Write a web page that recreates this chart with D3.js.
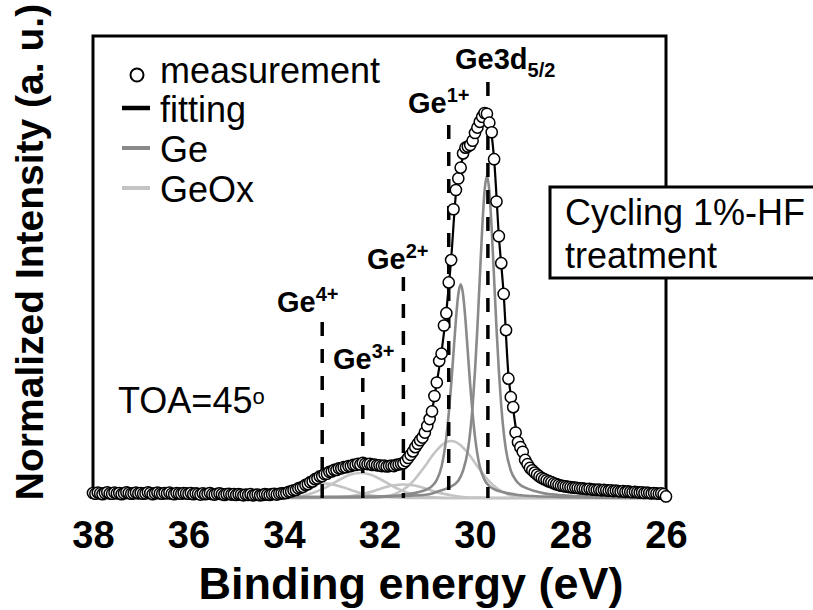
<!DOCTYPE html>
<html>
<head>
<meta charset="utf-8">
<script src="https://cdn.jsdelivr.net/npm/d3@7/dist/d3.min.js"></script>
<style>
  html, body { margin: 0; padding: 0; background: #fff; }
  svg { display: block; font-family: "Liberation Sans", Arial, Helvetica, sans-serif; }
</style>
</head>
<body>
<svg id="chart" width="813" height="610"></svg>
<script>
// Ge 3d XPS spectrum, binding energy grid (eV)
const energy = [
  38,37.95,37.9,37.85,37.8,37.75,37.7,37.65,37.6,37.55,37.5,37.45,37.4,37.35,37.3,37.25,37.2,37.15,37.1,37.05,
  37,36.95,36.9,36.85,36.8,36.75,36.7,36.65,36.6,36.55,36.5,36.45,36.4,36.35,36.3,36.25,36.2,36.15,36.1,36.05,
  36,35.95,35.9,35.85,35.8,35.75,35.7,35.65,35.6,35.55,35.5,35.45,35.4,35.35,35.3,35.25,35.2,35.15,35.1,35.05,
  35,34.95,34.9,34.85,34.8,34.75,34.7,34.65,34.6,34.55,34.5,34.45,34.4,34.35,34.3,34.25,34.2,34.15,34.1,34.05,
  34,33.95,33.9,33.85,33.8,33.75,33.7,33.65,33.6,33.55,33.5,33.45,33.4,33.35,33.3,33.25,33.2,33.15,33.1,33.05,
  33,32.95,32.9,32.85,32.8,32.75,32.7,32.65,32.6,32.55,32.5,32.45,32.4,32.35,32.3,32.25,32.2,32.15,32.1,32.05,
  32,31.95,31.9,31.85,31.8,31.75,31.7,31.65,31.6,31.55,31.5,31.45,31.4,31.35,31.3,31.25,31.2,31.15,31.1,31.05,
  31,30.95,30.9,30.85,30.8,30.75,30.7,30.65,30.6,30.55,30.5,30.45,30.4,30.35,30.3,30.25,30.2,30.15,30.1,30.05,
  30,29.95,29.9,29.85,29.8,29.75,29.7,29.65,29.6,29.55,29.5,29.45,29.4,29.35,29.3,29.25,29.2,29.15,29.1,29.05,
  29,28.95,28.9,28.85,28.8,28.75,28.7,28.65,28.6,28.55,28.5,28.45,28.4,28.35,28.3,28.25,28.2,28.15,28.1,28.05,
  28,27.95,27.9,27.85,27.8,27.75,27.7,27.65,27.6,27.55,27.5,27.45,27.4,27.35,27.3,27.25,27.2,27.15,27.1,27.05,
  27,26.95,26.9,26.85,26.8,26.75,26.7,26.65,26.6,26.55,26.5,26.45,26.4,26.35,26.3,26.25,26.2,26.15,26.1,26.05,
  26
];

// Measured normalized intensity at each grid energy
const measured = [
  0.013,0.011,0.014,0.012,0.010,0.013,0.015,0.012,0.011,0.014,0.012,0.013,0.010,0.012,0.015,0.013,0.011,0.012,0.014,0.012,
  0.013,0.011,0.012,0.015,0.013,0.010,0.012,0.014,0.012,0.011,0.013,0.012,0.014,0.011,0.010,0.013,0.012,0.011,0.013,0.012,
  0.011,0.013,0.010,0.012,0.011,0.009,0.012,0.010,0.011,0.013,0.010,0.009,0.011,0.012,0.010,0.008,0.010,0.011,0.009,0.010,
  0.008,0.010,0.009,0.007,0.009,0.008,0.010,0.007,0.008,0.009,0.007,0.008,0.010,0.009,0.008,0.010,0.011,0.009,0.011,0.012,
  0.012,0.013,0.016,0.017,0.020,0.021,0.025,0.027,0.029,0.034,0.036,0.041,0.043,0.049,0.051,0.056,0.057,0.062,0.063,0.068,
  0.069,0.073,0.073,0.077,0.077,0.080,0.080,0.083,0.083,0.086,0.086,0.089,0.087,0.091,0.089,0.088,0.089,0.086,0.087,0.085,
  0.085,0.083,0.084,0.082,0.083,0.084,0.083,0.086,0.087,0.089,0.090,0.096,0.104,0.112,0.121,0.132,0.141,0.150,0.157,0.170,
  0.187,0.205,0.225,0.265,0.300,0.356,0.375,0.448,0.480,0.560,0.618,0.750,0.800,0.830,0.858,0.895,0.910,0.913,0.917,0.928,
  0.948,0.962,0.977,0.990,1.000,0.998,0.975,0.950,0.880,0.770,0.680,0.610,0.530,0.436,0.310,0.262,0.236,0.170,0.145,0.132,
  0.120,0.099,0.088,0.078,0.072,0.066,0.061,0.056,0.052,0.049,0.046,0.043,0.041,0.038,0.036,0.034,0.032,0.031,0.030,0.029,
  0.028,0.027,0.027,0.026,0.025,0.025,0.024,0.023,0.024,0.022,0.022,0.021,0.022,0.020,0.021,0.020,0.019,0.020,0.018,0.019,
  0.018,0.017,0.018,0.016,0.017,0.016,0.015,0.016,0.015,0.014,0.015,0.013,0.014,0.013,0.012,0.013,0.012,0.011,0.012,0.010,
  0.004
];

// Total fitted envelope [energy, intensity]
const fitting = [
  [38,0.012],[36,0.012],[34.5,0.009],[34,0.012],[33.9,0.015],[33.8,0.019],[33.7,0.024],[33.6,0.030],[33.5,0.037],
  [33.4,0.044],[33.3,0.051],[33.2,0.058],[33.1,0.064],[33.0,0.069],[32.9,0.074],[32.8,0.078],[32.7,0.081],[32.6,0.084],
  [32.5,0.087],[32.4,0.089],[32.3,0.089],[32.2,0.087],[32.1,0.085],[32.0,0.084],[31.9,0.083],[31.8,0.083],[31.7,0.084],
  [31.6,0.086],[31.5,0.090],[31.4,0.103],[31.3,0.120],[31.2,0.140],[31.1,0.158],[31.0,0.186],[30.9,0.228],[30.8,0.300],
  [30.7,0.380],[30.6,0.485],[30.5,0.620],[30.4,0.790],[30.3,0.860],[30.2,0.905],[30.1,0.918],[30.0,0.947],[29.9,0.978],
  [29.8,1.000],[29.7,0.977],[29.6,0.880],[29.5,0.680],[29.4,0.530],[29.3,0.320],[29.2,0.230],[29.1,0.148],[29.0,0.118],
  [28.9,0.088],[28.8,0.072],[28.7,0.061],[28.6,0.052],[28.5,0.046],[28.4,0.041],[28.3,0.036],[28.2,0.032],[28.0,0.028],
  [27.5,0.022],[27.0,0.018],[26.5,0.014],[26.0,0.008]
];

// Elemental Ge doublet components
const ge52 = [
  [38,0],[32.0,0.003],[31.5,0.005],[31.0,0.009],[30.75,0.018],[30.55,0.027],[30.35,0.045],[30.25,0.071],[30.15,0.124],
  [30.1,0.172],[30.05,0.239],[30.0,0.330],[29.95,0.442],[29.9,0.570],[29.85,0.698],[29.8,0.797],[29.75,0.836],[29.7,0.797],
  [29.65,0.698],[29.6,0.570],[29.55,0.442],[29.5,0.330],[29.45,0.239],[29.4,0.172],[29.35,0.124],[29.25,0.071],[29.15,0.047],
  [29.05,0.034],[28.95,0.027],[28.75,0.018],[28.55,0.012],[28.25,0.008],[27.75,0.0045],[27.0,0.002],[26,0]
];
const ge32 = [
  [38,0],[32.3,0.003],[31.8,0.005],[31.5,0.008],[31.3,0.012],[31.1,0.018],[31.0,0.023],[30.9,0.031],[30.8,0.047],
  [30.7,0.082],[30.65,0.114],[30.6,0.159],[30.55,0.219],[30.5,0.293],[30.45,0.378],[30.4,0.463],[30.35,0.529],[30.3,0.555],
  [30.25,0.529],[30.2,0.463],[30.15,0.378],[30.1,0.293],[30.05,0.219],[30.0,0.159],[29.95,0.114],[29.9,0.082],[29.8,0.047],
  [29.7,0.031],[29.6,0.023],[29.5,0.018],[29.3,0.012],[29.1,0.008],[28.8,0.005],[28.3,0.003],[26,0]
];

// Oxide components Ge1+ .. Ge4+
const geOx1 = [
  [38,0],[32.1,0.001],[31.9,0.003],[31.7,0.009],[31.5,0.022],[31.4,0.031],[31.3,0.043],[31.2,0.058],[31.1,0.074],
  [31.0,0.091],[30.9,0.109],[30.8,0.124],[30.7,0.137],[30.6,0.145],[30.5,0.148],[30.4,0.145],[30.3,0.137],[30.2,0.124],
  [30.1,0.109],[30.0,0.091],[29.9,0.074],[29.8,0.058],[29.7,0.043],[29.6,0.031],[29.5,0.022],[29.3,0.009],[29.1,0.003],
  [28.9,0.001],[26,0]
];
const geOx2 = [
  [38,0],[33.3,0],[33.1,0.001],[32.9,0.001],[32.7,0.003],[32.5,0.007],[32.3,0.012],[32.1,0.019],[31.9,0.027],[31.7,0.033],
  [31.5,0.035],[31.3,0.033],[31.1,0.027],[30.9,0.019],[30.7,0.012],[30.5,0.007],[30.3,0.003],[30.1,0.001],[29.9,0.001],
  [29.7,0],[26,0]
];
const geOx3 = [
  [38,0],[34.2,0],[34.0,0.001],[33.8,0.003],[33.6,0.006],[33.4,0.013],[33.2,0.023],[33.0,0.036],[32.8,0.050],[32.6,0.061],
  [32.4,0.065],[32.2,0.061],[32.0,0.050],[31.8,0.036],[31.6,0.023],[31.4,0.013],[31.2,0.006],[31.0,0.003],[30.8,0.001],
  [30.6,0],[26,0]
];
const geOx4 = [
  [38,0],[35.0,0],[34.8,0.001],[34.6,0.002],[34.4,0.004],[34.2,0.007],[34.0,0.013],[33.8,0.021],[33.6,0.029],[33.4,0.036],
  [33.2,0.038],[33.0,0.036],[32.8,0.029],[32.6,0.021],[32.4,0.013],[32.2,0.007],[32.0,0.004],[31.8,0.002],[31.6,0.001],
  [31.4,0],[26,0]
];

// Axis ticks and peak reference energies
const xTicks = [38, 36, 34, 32, 30, 28, 26];
const peakStates = ["4+", "3+", "2+", "1+", "3d"];
const peakEnergies = [33.2, 32.35, 31.5, 30.55, 29.73];
const legendLabels = ["measurement", "fitting", "Ge", "GeOx"];

const svg = d3.select("#chart");
const FONT = '"Liberation Sans", Arial, Helvetica, sans-serif';

const x = d3.scaleLinear().domain([38, 26]).range([93, 666]);
const y = d3.scaleLinear().domain([0, 1.2]).range([498, 36]);

const line = d3.line()
  .x(d => x(d[0]))
  .y(d => y(d[1]))
  .curve(d3.curveMonotoneX);

// plot frame (left, top, right)
svg.append("path")
  .attr("d", `M${x(38)},${y(0.028)} V${y(1.2)} H${x(26)} V${y(0.02)}`)
  .attr("fill", "none").attr("stroke", "#000").attr("stroke-width", 3);

// oxide components
const oxColor = "#c4c4c4";
[geOx4, geOx3, geOx2, geOx1].forEach(s => {
  svg.append("path").datum(s).attr("d", line)
    .attr("fill", "none").attr("stroke", oxColor).attr("stroke-width", 2.6);
});

// elemental Ge components
const geColor = "#8a8a8a";
[ge32, ge52].forEach(s => {
  svg.append("path").datum(s).attr("d", line)
    .attr("fill", "none").attr("stroke", geColor).attr("stroke-width", 2.6);
});

// dashed peak-position markers
const dashTops = [322, 378, 277, 125, 82];
peakEnergies.forEach((e, i) => {
  svg.append("line")
    .attr("x1", x(e)).attr("x2", x(e))
    .attr("y1", dashTops[i]).attr("y2", y(0))
    .attr("stroke", "#000").attr("stroke-width", 3.5)
    .attr("stroke-dasharray", "14,13");
});

// fitted envelope
svg.append("path").datum(fitting).attr("d", line)
  .attr("fill", "none").attr("stroke", "#000").attr("stroke-width", 2.2);

// measured points
svg.append("g").selectAll("circle")
  .data(energy.map((e, i) => [e, measured[i]]))
  .join("circle")
  .attr("cx", d => x(d[0]))
  .attr("cy", d => y(d[1]))
  .attr("r", 5.6)
  .attr("fill", "#fff")
  .attr("stroke", "#000")
  .attr("stroke-width", 1.5);

// x axis tick labels
const xAxis = d3.axisBottom(x).tickValues(xTicks).tickSize(0).tickPadding(0).tickFormat(d3.format("d"));
const gx = svg.append("g").attr("transform", "translate(0,521)").call(xAxis);
gx.select(".domain").remove();
gx.selectAll("text")
  .attr("font-family", FONT).attr("font-size", 38).attr("font-weight", "bold").attr("fill", "#000");

// axis titles
svg.append("text")
  .attr("x", 411).attr("y", 599)
  .attr("text-anchor", "middle")
  .attr("font-family", FONT).attr("font-size", 45).attr("font-weight", "bold")
  .text("Binding energy (eV)");

svg.append("text")
  .attr("transform", "translate(43,252) rotate(-90)")
  .attr("text-anchor", "middle")
  .attr("font-family", FONT).attr("font-size", 39).attr("font-weight", "bold")
  .text("Normalized Intensity (a. u.)");

// legend
const legY = [83, 122, 162, 202];
const lg = svg.append("g").attr("font-family", FONT).attr("font-size", 36);
lg.append("circle").attr("cx", 137).attr("cy", legY[0] - 8).attr("r", 6.5)
  .attr("fill", "#fff").attr("stroke", "#000").attr("stroke-width", 2);
[["#000", 4.5], [geColor, 4], [oxColor, 4]].forEach((s, i) => {
  lg.append("line").attr("x1", 122).attr("x2", 150)
    .attr("y1", legY[i + 1] - 14).attr("y2", legY[i + 1] - 14)
    .attr("stroke", s[0]).attr("stroke-width", s[1]);
});
legendLabels.forEach((t, i) => {
  lg.append("text").attr("x", 160).attr("y", legY[i]).text(t);
});

// peak labels
const labelPos = [[277, 312], [333, 369], [367, 269], [408, 113], [455, 69]];
peakStates.forEach((s, i) => {
  const t = svg.append("text")
    .attr("x", labelPos[i][0]).attr("y", labelPos[i][1])
    .attr("font-family", FONT).attr("font-weight", "bold").attr("font-size", 29);
  if (s === "3d") {
    t.append("tspan").text("Ge3d");
    t.append("tspan").attr("font-size", 20).attr("dy", 8).text("5/2");
  } else {
    t.append("tspan").text("Ge");
    t.append("tspan").attr("font-size", 20).attr("dy", -11).text(s);
  }
});

// take-off angle note
const toa = svg.append("text").attr("x", 118).attr("y", 413)
  .attr("font-family", FONT).attr("font-size", 36);
toa.append("tspan").text("TOA=45");
toa.append("tspan").attr("font-size", 22).attr("dy", -9).text("o");

// treatment box
svg.append("rect")
  .attr("x", 550).attr("y", 187).attr("width", 300).attr("height", 91)
  .attr("fill", "#fff").attr("stroke", "#000").attr("stroke-width", 3);
const tb = svg.append("text").attr("font-family", FONT).attr("font-size", 36);
tb.append("tspan").attr("x", 565).attr("y", 225).text("Cycling 1%-HF");
tb.append("tspan").attr("x", 565).attr("y", 268).text("treatment");
</script>
</body>
</html>
